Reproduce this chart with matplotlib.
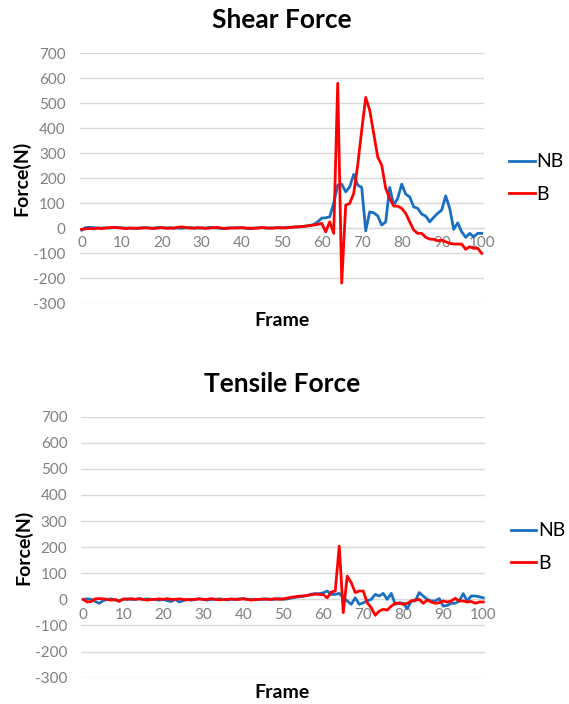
import numpy as np
import matplotlib.pyplot as plt

plt.rcParams['font.family'] = ['Lato', 'DejaVu Sans']
plt.rcParams['axes.unicode_minus'] = False

frames = np.arange(0, 101)

# Shear force
shear_nb = [-8, 2, 3, 2, 0, 0, 1, 0, 2, 3, 1, 0, 0, -2, 0, 1, 2, 0, 0, 3,
            1, 0, 2, 0, 0, -1, 1, 2, 0, 0, 1, 0, 3, 1, 0, -2, 0, 1, 0, 2,
            1, 0, -3, 0, 1, 2, 0, 0, 1, 2, 0, 3, 2, 4, 5,
            6, 8, 10, 15, 25, 40, 41, 45, 100, 172, 176, 145, 165, 215, 172,
            163, -11, 65, 61, 49, 12, 25, 163, 92, 119, 176, 136, 125, 85, 79,
            56, 48, 25, 43, 59, 72, 129, 79, -5, 21, -15, -37, -21, -35, -21, -21]
shear_b = [-5, -3, -2, -3, 0, -2, 0, 2, 3, 1, 0, -2, 0, 0, -1, 0, 1, 0, -2, 0,
           2, 0, -1, 0, 3, 5, 2, 0, 0, 2, 0, -1, 0, 2, 3, 0, -2, 0, 1, 0,
           2, 0, 0, -1, 0, 2, 1, 0, 0, 1, 2, 0, 3, 4, 5,
           6, 8, 10, 12, 15, 19, -15, 25, -21, 580, -220, 92, 99, 139, 252,
           392, 523, 472, 379, 285, 252, 159, 119, 88, 88, 79, 59, 25, -8, -21,
           -21, -37, -44, -45, -51, -48, -55, -61, -64, -64, -64, -85, -75, -81, -81, -101]

# Tensile force
tensile_nb = [0, 2, 0, -8, -15, -5, 0, 2, -3, -5, 0, 2, 0, 0, 3, 0, 2, 0, 0, -3,
              0, -5, -8, 0, -10, -5, 0, -3, 0, 2, 0, -3, 0, 0, 2, 0, -2, 0, 0, 2,
              3, 0, 0, -2, 0, 0, 2, 0, 0, 3, 0, 2, 5, 8, 10,
              12, 15, 20, 22, 22, 25, 32, 19, 19, 23, 6, -6, -19, 6, -19,
              -13, -6, 0, 19, 13, 23, 0, 23, -19, -13, -15, -36, -6, -6, 26,
              13, 0, -6, -6, 3, -26, -23, -15, -15, -6, 22, -6, 13, 13, 10, 6]
tensile_b = [0, -10, -8, 2, 3, 2, 0, -3, 0, -8, 2, 0, 3, 0, 2, 0, -3, 0, 0, 2,
             0, 3, 0, 0, 2, 0, -2, 0, 0, 2, 0, 0, 3, 0, -2, 0, 0, 2, 0, 0,
             2, 0, -3, 0, 0, 2, 0, 0, 3, 0, 2, 5, 8, 10, 12,
             13, 15, 18, 20, 19, 18, 6, 28, 32, 204, -51, 89, 64, 26, 32,
             32, -13, -32, -61, -45, -38, -41, -26, -15, -15, -19, -15, -6, -3, 0,
             -15, -3, -10, -15, -13, -6, -10, -6, 4, -6, -6, -10, -8, -15, -10, -10]

yticks = np.arange(-300, 701, 100)
xticks = np.arange(0, 101, 10)

blue = '#1a6fc0'
red = '#ff0000'
gray = '#808080'

fig = plt.figure(figsize=(5.69, 7.04), dpi=100)


def draw(ax, nb, b):
    ax.plot(frames, nb, color=blue, lw=2.0, label='NB', zorder=3)
    ax.plot(frames, b, color=red, lw=2.0, label='B', zorder=4)
    ax.set_xlim(-0.5, 100.5)
    ax.set_ylim(-300, 700)
    ax.set_yticks(yticks)
    ax.set_xticks(xticks)
    ax.yaxis.grid(True, color='#d9d9d9', lw=1.0)
    ax.set_axisbelow(True)
    for s in ['top', 'right', 'left']:
        ax.spines[s].set_visible(False)
    ax.spines['bottom'].set_position(('data', 0))
    ax.spines['bottom'].set_color('#d9d9d9')
    ax.tick_params(axis='y', length=0, pad=10, labelsize=11, labelcolor=gray)
    ax.tick_params(axis='x', length=0, pad=6, labelsize=11, labelcolor=gray)
    ax.set_ylabel('Force(N)', fontsize=14, fontweight='bold', labelpad=2)
    ax.legend(loc='center left', bbox_to_anchor=(1.02, 0.5), frameon=False,
              fontsize=14, handlelength=1.3, handletextpad=0.1, labelspacing=0.8)


ax1 = fig.add_axes([0.1401, 0.5696, 0.710, 0.3547])
draw(ax1, shear_nb, shear_b)
fig.text(0.496, 0.545, 'Frame', ha='center', va='center', fontsize=14, fontweight='bold')
fig.text(0.496, 0.972, 'Shear Force', ha='center', va='center', fontsize=19, fontweight='bold')

ax2 = fig.add_axes([0.1428, 0.0374, 0.710, 0.3707])
draw(ax2, tensile_nb, tensile_b)
fig.text(0.496, 0.017, 'Frame', ha='center', va='center', fontsize=14, fontweight='bold')
fig.text(0.496, 0.455, 'Tensile Force', ha='center', va='center', fontsize=19, fontweight='bold')

fig.savefig('out.png', dpi=100)
